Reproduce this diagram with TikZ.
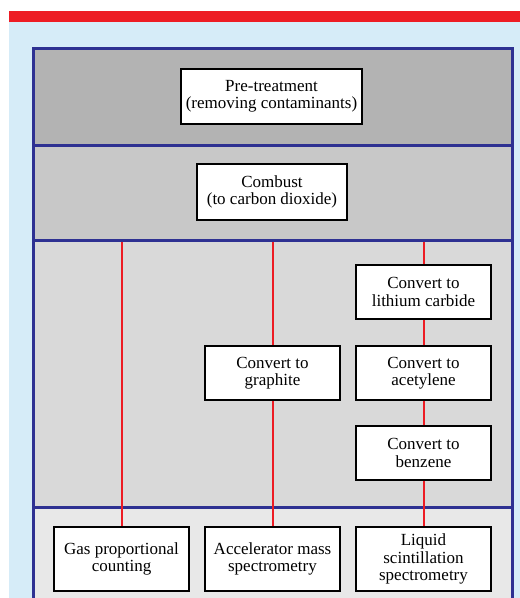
\documentclass[tikz,border=0pt]{standalone}
\usepackage{fontspec}
\setmainfont{Liberation Serif}
\definecolor{barred}{HTML}{ED1C24}
\definecolor{skyblue}{HTML}{D6ECF8}
\definecolor{frameblue}{HTML}{2E3192}
\definecolor{bandA}{HTML}{B3B3B3}
\definecolor{bandB}{HTML}{C8C8C8}
\definecolor{bandC}{HTML}{D9D9D9}
\definecolor{bandD}{HTML}{E8E8E8}
\tikzstyle{stage}=[draw, fill=white, line width=2pt, align=center, inner sep=2pt, minimum width=135pt, minimum height=54pt, font=\fontsize{17}{17.5}\selectfont]
\tikzstyle{link}=[barred, line width=2pt]
\tikzstyle{border}=[frameblue, line width=3pt]

\begin{document}
\begin{tikzpicture}[x=1pt, y=-1pt]

\useasboundingbox (0,0) rectangle (520,598);

\fill[skyblue] (9,22) rectangle (520,598);
\fill[barred] (9,11) rectangle (520,22);

\fill[bandA] (33,48) rectangle (512,145);
\fill[bandB] (33,145) rectangle (512,240);
\fill[bandC] (33,240) rectangle (512,507);
\fill[bandD] (33,507) rectangle (512,598);

\draw[border] (33,598) -- (33,48) -- (512,48) -- (512,598);
\draw[border] (33,145) -- (512,145);
\draw[border] (33,240) -- (512,240);
\draw[border] (33,507) -- (512,507);

\node[stage, minimum width=181pt, minimum height=55pt] (pre) at (271.5, 96.5) {Pre-treatment\\(removing contaminants)};
\node[stage, minimum width=150pt, minimum height=56pt] (comb) at (272, 192) {Combust\\(to carbon dioxide)};

\node[stage] (lith) at (423.5, 292) {Convert to\\lithium carbide};
\node[stage] (graph) at (272.5, 373) {Convert to\\graphite};
\node[stage] (acet) at (423.5, 373) {Convert to\\acetylene};
\node[stage] (benz) at (423.5, 453) {Convert to\\benzene};

\node[stage, minimum height=64pt] (gas) at (121.5, 559) {Gas proportional\\counting};
\node[stage, minimum height=64pt] (ams) at (272.5, 559) {Accelerator mass\\spectrometry};
\node[stage, minimum height=64pt] (lsc) at (423.5, 559) {Liquid\\scintillation\\spectrometry};

\coordinate (top1) at (121.5, 241.5);
\coordinate (top2) at (272.5, 241.5);
\coordinate (top3) at (423.5, 241.5);

\draw[link] (top1) -- (gas.north);
\draw[link] (top2) -- (graph.north);
\draw[link] (graph.south) -- (ams.north);
\draw[link] (top3) -- (lith.north);
\draw[link] (lith.south) -- (acet.north);
\draw[link] (acet.south) -- (benz.north);
\draw[link] (benz.south) -- (lsc.north);

\end{tikzpicture}
\end{document}
